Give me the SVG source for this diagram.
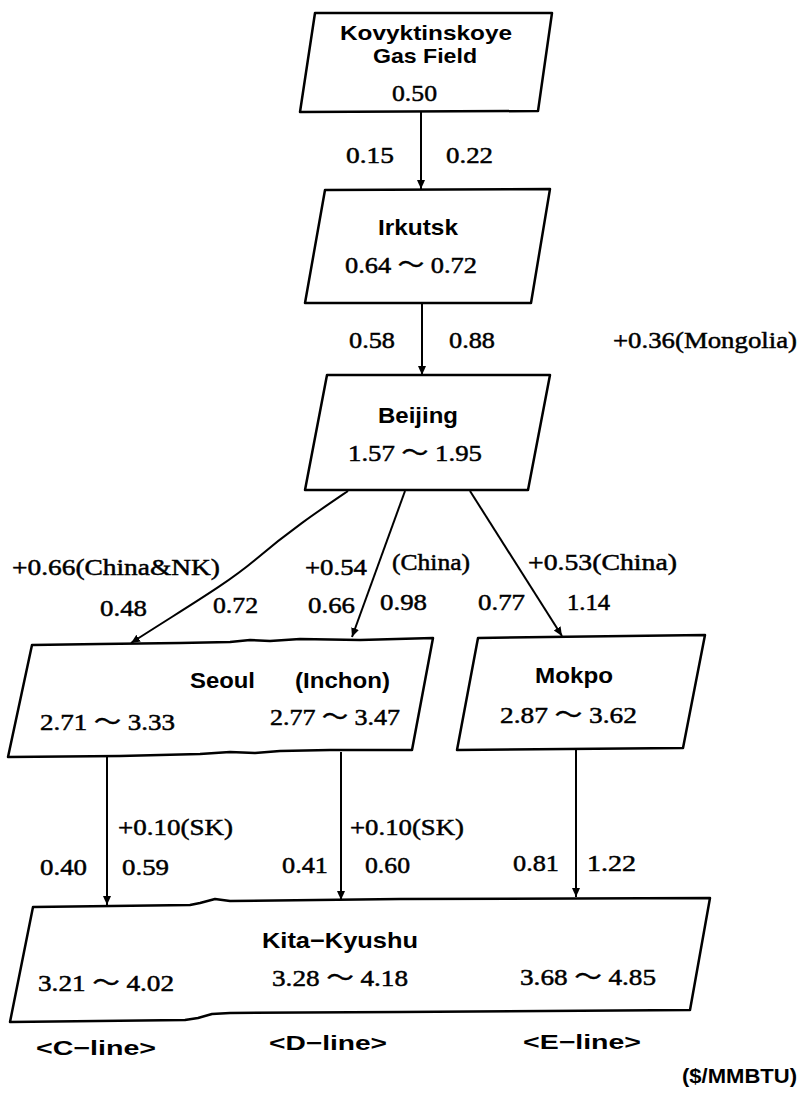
<svg xmlns="http://www.w3.org/2000/svg" width="799" height="1098" viewBox="0 0 799 1098">
<defs>
<marker id="ah" markerWidth="10" markerHeight="10" refX="9" refY="5" orient="auto" markerUnits="userSpaceOnUse">
<path d="M0,1 L9,5 L0,9 Z" fill="#000"/>
</marker>
<style>
.box{fill:#fff;stroke:#000;stroke-width:2.5;stroke-linejoin:round}
.con{fill:none;stroke:#000;stroke-width:2;marker-end:url(#ah)}
.nm{font-family:"Liberation Sans",Arial,sans-serif;font-weight:bold;font-size:22px;fill:#000}
.num{font-family:"Liberation Serif","Times New Roman","Noto Sans CJK JP",serif;font-size:24px;fill:#000;stroke:#000;stroke-width:0.5}
.ft{font-family:"Liberation Sans",Arial,sans-serif;font-weight:bold;font-size:20px;fill:#000}
</style>
</defs>
<rect width="799" height="1098" fill="#fff"/>
<g id="connectors">
<path class="con" d="M421,112 L421,189"/>
<path class="con" d="M422,303 L422,375"/>
<path class="con" d="M348,491 C320,510 290,530 255,560 C225,585 190,605 131,643"/>
<path class="con" d="M405,491 L352,637"/>
<path class="con" d="M470,491 L562,636"/>
<path class="con" d="M107,757 L107,905"/>
<path class="con" d="M341,752 L341,900"/>
<path class="con" d="M576,749 L576,897"/>
</g>
<g id="kovyktinskoye">
<path class="box" d="M315,13 L552,13 L538,111 L300,112 Z"/>
<text class="nm" x="340" y="40" style="font-size:21px" textLength="172" lengthAdjust="spacingAndGlyphs">Kovyktinskoye</text>
<text class="nm" x="373" y="63" style="font-size:21px" textLength="104" lengthAdjust="spacingAndGlyphs">Gas Field</text>
<text class="num" x="392" y="101" textLength="45" lengthAdjust="spacingAndGlyphs">0.50</text>
</g>
<g id="irkutsk">
<path class="box" d="M325,190 L550,189 L531,303 L305,303 Z"/>
<text class="nm" x="378" y="235" textLength="80" lengthAdjust="spacingAndGlyphs">Irkutsk</text>
<text class="num" x="345" y="273" textLength="132" lengthAdjust="spacingAndGlyphs">0.64 〜 0.72</text>
</g>
<g id="beijing">
<path class="box" d="M327,375 L550,375 L528,490 L305,490 Z"/>
<text class="nm" x="378" y="423" textLength="80" lengthAdjust="spacingAndGlyphs">Beijing</text>
<text class="num" x="348" y="461" textLength="134" lengthAdjust="spacingAndGlyphs">1.57 〜 1.95</text>
</g>
<g id="seoul">
<path class="box" d="M32,645 L100,644 L180,643 L230,642 L250,640 L270,641 L300,639 L360,640 L433,638 L412,750 L330,750 L280,751 L255,753 L230,752 L200,754 L120,756 L8,757 Z"/>
<text class="nm" x="190" y="688" textLength="65" lengthAdjust="spacingAndGlyphs">Seoul</text>
<text class="nm" x="295" y="688" textLength="95" lengthAdjust="spacingAndGlyphs">(Inchon)</text>
<text class="num" x="40" y="730" textLength="135" lengthAdjust="spacingAndGlyphs">2.71 〜 3.33</text>
<text class="num" x="270" y="725" textLength="130" lengthAdjust="spacingAndGlyphs">2.77 〜 3.47</text>
</g>
<g id="mokpo">
<path class="box" d="M478,638 L705,635 L683,748 L457,750 Z"/>
<text class="nm" x="535" y="683" textLength="78" lengthAdjust="spacingAndGlyphs">Mokpo</text>
<text class="num" x="500" y="723" textLength="137" lengthAdjust="spacingAndGlyphs">2.87 〜 3.62</text>
</g>
<g id="kita-kyushu">
<path class="box" d="M33,907 L190,905 L200,903 L215,899 L230,901 L400,899 L710,898 L690,1010 L400,1012 L230,1013 L212,1014 L198,1018 L185,1020 L10,1022 Z"/>
<text class="nm" x="262" y="948" textLength="156" lengthAdjust="spacingAndGlyphs">Kita−Kyushu</text>
<text class="num" x="38" y="991" textLength="136" lengthAdjust="spacingAndGlyphs">3.21 〜 4.02</text>
<text class="num" x="272" y="986" textLength="136" lengthAdjust="spacingAndGlyphs">3.28 〜 4.18</text>
<text class="num" x="520" y="985" textLength="136" lengthAdjust="spacingAndGlyphs">3.68 〜 4.85</text>
</g>
<g id="labels">
<text class="num" x="346" y="163" textLength="48" lengthAdjust="spacingAndGlyphs">0.15</text>
<text class="num" x="446" y="163" textLength="47" lengthAdjust="spacingAndGlyphs">0.22</text>
<text class="num" x="349" y="348" textLength="46" lengthAdjust="spacingAndGlyphs">0.58</text>
<text class="num" x="449" y="348" textLength="46" lengthAdjust="spacingAndGlyphs">0.88</text>
<text class="num" x="613" y="348" textLength="184" lengthAdjust="spacingAndGlyphs">+0.36(Mongolia)</text>
<text class="num" x="12" y="575" textLength="208" lengthAdjust="spacingAndGlyphs">+0.66(China&amp;NK)</text>
<text class="num" x="100" y="616" textLength="47" lengthAdjust="spacingAndGlyphs">0.48</text>
<text class="num" x="213" y="613" textLength="45" lengthAdjust="spacingAndGlyphs">0.72</text>
<text class="num" x="305" y="575" textLength="62" lengthAdjust="spacingAndGlyphs">+0.54</text>
<text class="num" x="392" y="570" textLength="78" lengthAdjust="spacingAndGlyphs">(China)</text>
<text class="num" x="308" y="613" textLength="47" lengthAdjust="spacingAndGlyphs">0.66</text>
<text class="num" x="380" y="610" textLength="47" lengthAdjust="spacingAndGlyphs">0.98</text>
<text class="num" x="528" y="570" textLength="149" lengthAdjust="spacingAndGlyphs">+0.53(China)</text>
<text class="num" x="478" y="610" textLength="47" lengthAdjust="spacingAndGlyphs">0.77</text>
<text class="num" x="567" y="610" textLength="43" lengthAdjust="spacingAndGlyphs">1.14</text>
<text class="num" x="118" y="835" textLength="115" lengthAdjust="spacingAndGlyphs">+0.10(SK)</text>
<text class="num" x="350" y="835" textLength="114" lengthAdjust="spacingAndGlyphs">+0.10(SK)</text>
<text class="num" x="40" y="875" textLength="47" lengthAdjust="spacingAndGlyphs">0.40</text>
<text class="num" x="122" y="875" textLength="47" lengthAdjust="spacingAndGlyphs">0.59</text>
<text class="num" x="282" y="873" textLength="46" lengthAdjust="spacingAndGlyphs">0.41</text>
<text class="num" x="365" y="873" textLength="45" lengthAdjust="spacingAndGlyphs">0.60</text>
<text class="num" x="513" y="871" textLength="46" lengthAdjust="spacingAndGlyphs">0.81</text>
<text class="num" x="587" y="871" textLength="49" lengthAdjust="spacingAndGlyphs">1.22</text>
<text class="ft" x="36" y="1055" textLength="120" lengthAdjust="spacingAndGlyphs">&lt;C−line&gt;</text>
<text class="ft" x="269" y="1050" textLength="118" lengthAdjust="spacingAndGlyphs">&lt;D−line&gt;</text>
<text class="ft" x="523" y="1049" textLength="118" lengthAdjust="spacingAndGlyphs">&lt;E−line&gt;</text>
<text class="ft" x="682" y="1083" textLength="115" lengthAdjust="spacingAndGlyphs">($/MMBTU)</text>
</g>
</svg>
